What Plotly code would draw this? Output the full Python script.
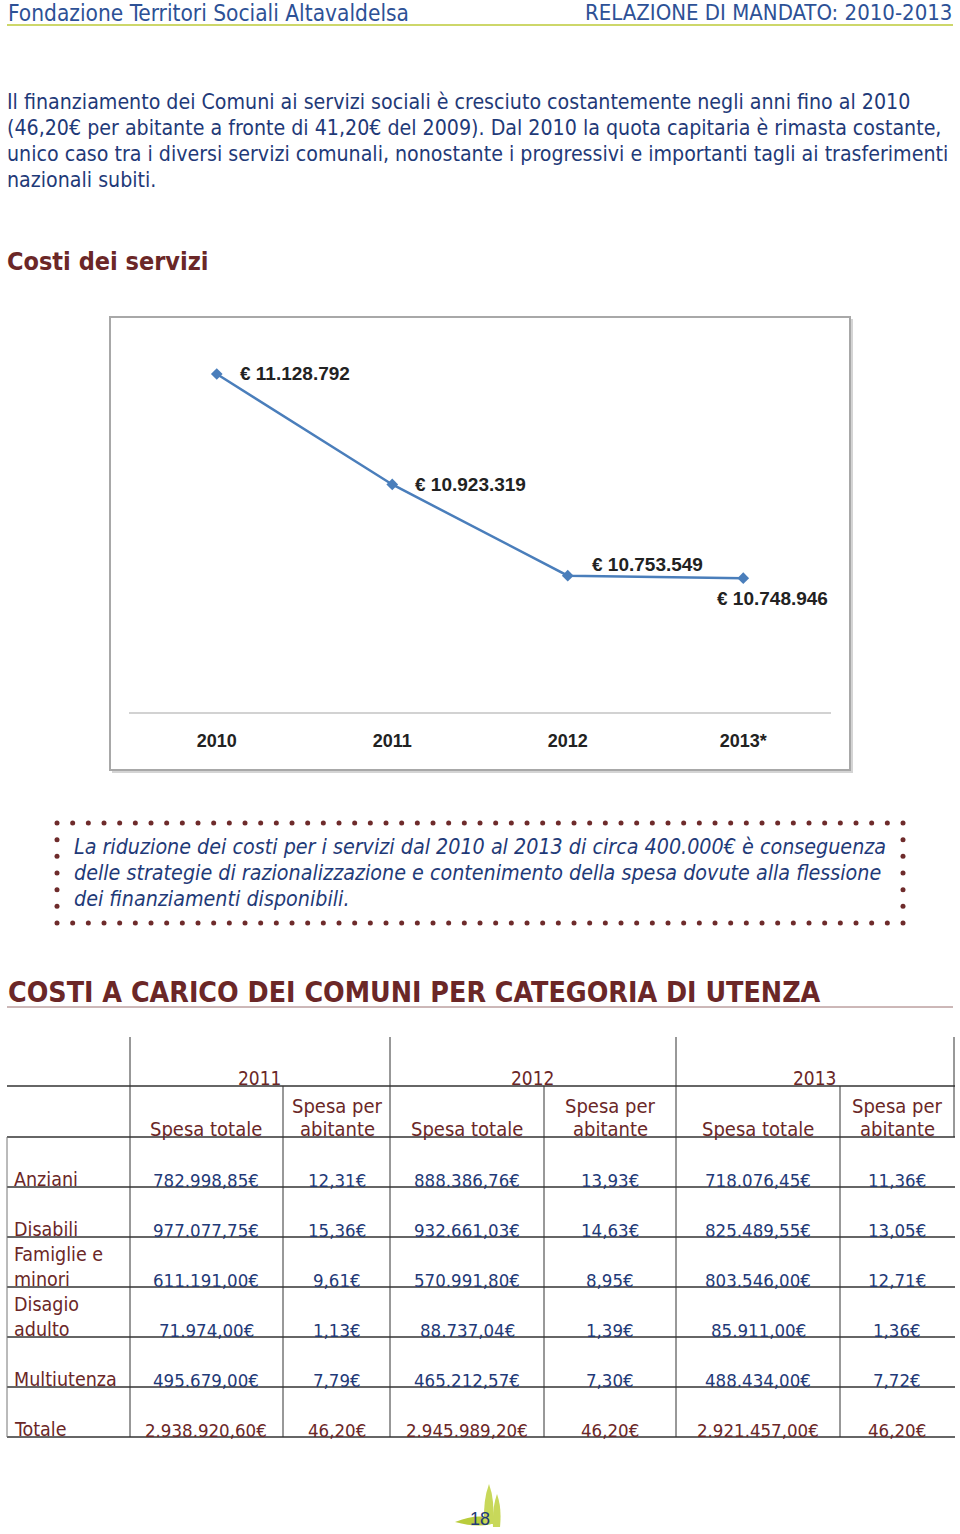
import plotly.graph_objects as go
import numpy as np

W, H = 960, 1534

# ---------------- data ----------------
anni_grafico = ["2010", "2011", "2012", "2013*"]
costi_servizi = [11128792, 10923319, 10753549, 10748946]

categorie = ["Anziani", "Disabili", "Famiglie e<br>minori", "Disagio<br>adulto", "Multiutenza", "Totale"]
anni_tabella = ["2011", "2012", "2013"]
spesa_totale_2011 = [782998.85, 977077.75, 611191.00, 71974.00, 495679.00, 2938920.60]
spesa_abitante_2011 = [12.31, 15.36, 9.61, 1.13, 7.79, 46.20]
spesa_totale_2012 = [888386.76, 932661.03, 570991.80, 88737.04, 465212.57, 2945989.20]
spesa_abitante_2012 = [13.93, 14.63, 8.95, 1.39, 7.30, 46.20]
spesa_totale_2013 = [718076.45, 825489.55, 803546.00, 85911.00, 488434.00, 2921457.00]
spesa_abitante_2013 = [11.36, 13.05, 12.71, 1.36, 7.72, 46.20]

header_left = "Fondazione Territori Sociali Altavaldelsa"
header_right = "RELAZIONE DI MANDATO: 2010-2013"
body_lines = [
    "Il finanziamento dei Comuni ai servizi sociali è cresciuto costantemente negli anni fino al 2010",
    "(46,20€ per abitante a fronte di 41,20€ del 2009). Dal 2010 la quota capitaria è rimasta costante,",
    "unico caso tra i diversi servizi comunali, nonostante i progressivi e importanti tagli ai trasferimenti",
    "nazionali subiti.",
]
box_lines = [
    "La riduzione dei costi per i servizi dal 2010 al 2013 di circa 400.000€ è conseguenza",
    "delle strategie di razionalizzazione e contenimento della spesa dovute alla flessione",
    "dei finanziamenti disponibili.",
]

# ---------------- style ----------------
BLUE = "#1f3a78"
HEAD_BLUE = "#2d5196"
RED = "#6b2727"
LINE_BLUE = "#4a7ebb"
FONT = "DejaVu Sans Condensed, Liberation Sans Narrow, DejaVu Sans, sans-serif"
CHART_FONT = "Liberation Sans, Arial, sans-serif"


def it_num(v, dec=2):
    s = f"{v:,.{dec}f}"
    return s.replace(",", "X").replace(".", ",").replace("X", ".")


fig = go.Figure()

# line chart
fig.add_trace(go.Scatter(
    x=anni_grafico, y=costi_servizi, mode="lines+markers",
    line=dict(color=LINE_BLUE, width=2.5),
    marker=dict(symbol="diamond", size=9, color=LINE_BLUE),
    hoverinfo="skip", showlegend=False, xaxis="x", yaxis="y"))

shapes = []
annotations = []


def P(x, y):
    return dict(xref="x2", yref="y2", x=x, y=y)


def text(x, y, s, size, color, xanchor="left", yanchor="middle", weight="normal", style="normal", family=FONT):
    a = P(x, y)
    a.update(text=s, showarrow=False, xanchor=xanchor, yanchor=yanchor,
             font=dict(family=family, size=size, color=color, weight=weight, style=style),
             align=xanchor if xanchor in ("left", "right") else "center")
    annotations.append(a)


def line(x0, y0, x1, y1, color, width=1, layer="above"):
    shapes.append(dict(type="line", xref="x2", yref="y2", x0=x0, y0=y0, x1=x1, y1=y1,
                       line=dict(color=color, width=width), layer=layer))


# page header
text(6, 12.5, header_left, 22.5, HEAD_BLUE)
text(954, 12.5, header_right, 22, HEAD_BLUE, xanchor="right")
line(7, 25, 953, 25, "#cdd76a", 2)

# body
for i, s in enumerate(body_lines):
    text(5, 101 + 26 * i, s, 21.2, BLUE)

text(5, 261, "Costi dei servizi", 25, RED, weight="bold")

# chart box with shadow (paper-referenced so it sits beneath the chart)
def pr(x0, y0, x1, y1):
    return dict(xref="paper", yref="paper", x0=x0 / W, x1=x1 / W, y0=1 - y0 / H, y1=1 - y1 / H)


sh = pr(112, 319, 853, 773)
sh.update(type="rect", line=dict(width=0), fillcolor="#d4d4d4", layer="below")
shapes.append(sh)
bx = pr(110, 317, 850, 770)
bx.update(type="rect", line=dict(color="#a8a8a8", width=2), fillcolor="white", layer="below")
shapes.append(bx)

# data labels (x given as category index)
offsets = [(21, 0), (21, 0), (22, 11), (-28, -20)]
for i, (yv, (dx, dy)) in enumerate(zip(costi_servizi, offsets)):
    annotations.append(dict(xref="x", yref="y", x=i, y=yv, xshift=dx, yshift=dy,
                            text="€ " + f"{yv:,}".replace(",", "."), showarrow=False,
                            xanchor="left", yanchor="middle",
                            font=dict(family=CHART_FONT, size=19, color="#222222", weight="bold")))

# dotted box
DOT = "#6e2b2b"
xs_top = np.linspace(57, 903, 55)
ys_side = np.linspace(823, 923, 7)
dot_x = list(xs_top) + list(xs_top) + [57] * 5 + [903] * 5
dot_y = [823] * 55 + [923] * 55 + list(ys_side[1:-1]) + list(ys_side[1:-1])
fig.add_trace(go.Scatter(x=dot_x, y=dot_y, mode="markers", xaxis="x2", yaxis="y2",
                         marker=dict(size=5, color=DOT), hoverinfo="skip", showlegend=False))
for i, s in enumerate(box_lines):
    text(72, 846 + 26 * i, s, 21.3, BLUE, style="italic")

# table title
text(6, 992, "COSTI A CARICO DEI COMUNI PER CATEGORIA DI UTENZA", 28.3, RED, weight="bold")
line(7, 1007, 953, 1007, "#9a7070", 1)

# table grid
GRID = "#333333"
line(7, 1086, 955, 1086, GRID, 1.5)
line(7, 1137, 955, 1137, GRID, 1.5)
row_lines = [1187, 1237, 1287, 1337, 1387, 1437]
for yl in row_lines:
    line(7, yl, 955, yl, GRID, 1.5)
for xv in [130, 390, 676]:
    line(xv, 1037, xv, 1437, GRID, 1)
for xv in [283, 544, 840]:
    line(xv, 1086, xv, 1437, GRID, 1)
line(954, 1037, 954, 1137, GRID, 1)
line(7, 1137, 7, 1437, "#777777", 1)

col_centers = [206, 337, 467, 610, 758, 897]
year_centers = [260, 533, 815]
for yc, a in zip(year_centers, anni_tabella):
    text(yc, 1078, a, 19, RED, xanchor="center")
for k in range(3):
    text(col_centers[2 * k], 1129, "Spesa totale", 20, RED, xanchor="center")
    text(col_centers[2 * k + 1], 1106, "Spesa per", 20, RED, xanchor="center")
    text(col_centers[2 * k + 1], 1129, "abitante", 20, RED, xanchor="center")

columns = [spesa_totale_2011, spesa_abitante_2011, spesa_totale_2012,
           spesa_abitante_2012, spesa_totale_2013, spesa_abitante_2013]
for r, cat in enumerate(categorie):
    yb = row_lines[r] + 6
    col = RED if r == len(categorie) - 1 else BLUE
    text(12, yb, cat, 19.5, RED, yanchor="bottom")
    for c, vals in enumerate(columns):
        text(col_centers[c], yb, it_num(vals[r]) + "€", 18.5, col, xanchor="center", yanchor="bottom")

# footer logo + page number
GREEN = "#b9cc3c"
shapes.append(dict(type="path", xref="x2", yref="y2",
                   path="M 455 1522 Q 478 1512 500 1520 Q 485 1530 455 1522 Z",
                   fillcolor=GREEN, line=dict(width=0), layer="above"))
shapes.append(dict(type="path", xref="x2", yref="y2",
                   path="M 484 1524 Q 483 1500 489 1484 Q 495 1500 493 1524 Z",
                   fillcolor="#c8d85a", line=dict(width=0), layer="above"))
shapes.append(dict(type="path", xref="x2", yref="y2",
                   path="M 493 1527 Q 492 1508 497 1494 Q 502 1508 500 1527 Z",
                   fillcolor="#c8d85a", line=dict(width=0), layer="above"))
text(480, 1519, "18", 18, BLUE, xanchor="center", family="Liberation Sans, Arial, sans-serif")

# ---------------- layout ----------------
y0v, y1v = 10.5e6, 11.192e6
fig.update_layout(
    width=W, height=H, autosize=False,
    margin=dict(l=0, r=0, t=0, b=0),
    paper_bgcolor="white", plot_bgcolor="rgba(0,0,0,0)",
    xaxis=dict(domain=[129 / W, 831 / W], type="category", range=[-0.5, 3.5],
               showline=True, linecolor="#d2d2d2", linewidth=2, ticks="",
               showgrid=False, zeroline=False, ticklabelstandoff=11,
               tickfont=dict(family=CHART_FONT, size=18, color="#222222", weight="bold"),
               anchor="y", fixedrange=True),
    yaxis=dict(domain=[1 - 712 / H, 1 - 340 / H], range=[y0v, y1v], visible=False,
               anchor="x", fixedrange=True),
    xaxis2=dict(domain=[0, 1], range=[0, W], visible=False, anchor="y2", fixedrange=True),
    yaxis2=dict(domain=[0, 1], range=[H, 0], visible=False, anchor="x2", fixedrange=True),
    shapes=shapes, annotations=annotations, showlegend=False,
)

fig.write_html("out.html")
